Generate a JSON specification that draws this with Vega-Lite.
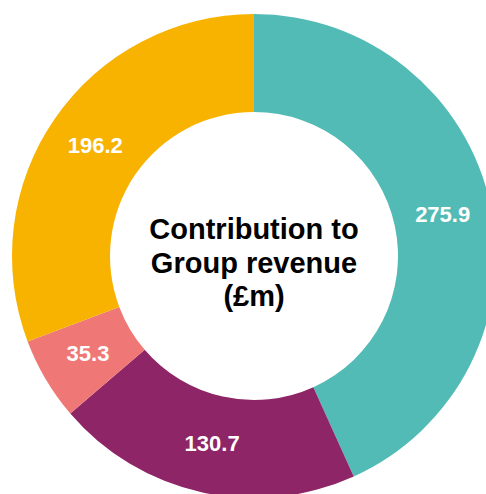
{
  "$schema": "https://vega.github.io/schema/vega-lite/v6.json",
  "usermeta": {"embedOptions": {"actions": false}},
  "width": 464,
  "height": 476,
  "autosize": "none",
  "padding": {"left": 22, "top": 18, "right": 0, "bottom": 0},
  "background": "white",
  "config": {"view": {"stroke": null}},
  "layer": [
    {
      "data": {"values": [
        {"segment": "Division A", "rank": 1, "value": 275.9},
        {"segment": "Division B", "rank": 2, "value": 130.7},
        {"segment": "Division C", "rank": 3, "value": 35.3},
        {"segment": "Division D", "rank": 4, "value": 196.2}
      ]},
      "layer": [
        {
          "mark": {"type": "arc", "outerRadius": 242, "innerRadius": 144},
          "encoding": {
            "theta": {"field": "value", "type": "quantitative", "stack": true},
            "order": {"field": "rank", "type": "quantitative"},
            "color": {
              "field": "segment", "type": "nominal", "legend": null,
              "scale": {
                "domain": ["Division A", "Division B", "Division C", "Division D"],
                "range": ["#53BBB6", "#8E2566", "#EF7775", "#F8B200"]
              }
            }
          }
        },
        {
          "mark": {"type": "text", "radius": 193, "fill": "white", "font": "Liberation Sans", "fontWeight": "bold", "fontSize": 22, "align": "center", "baseline": "middle"},
          "encoding": {
            "theta": {"field": "value", "type": "quantitative", "stack": true},
            "order": {"field": "rank", "type": "quantitative"},
            "detail": {"field": "segment", "type": "nominal"},
            "text": {"field": "value", "type": "quantitative", "format": ".1f"}
          }
        }
      ]
    },
    {
      "data": {"values": [{"title": "Contribution to\nGroup revenue\n(£m)"}]},
      "mark": {"type": "text", "lineBreak": "\n", "lineHeight": 33.5, "font": "Liberation Sans", "fontWeight": "bold", "fontSize": 29, "fill": "black", "align": "center", "baseline": "middle", "dy": -26},
      "encoding": {"text": {"field": "title", "type": "nominal"}}
    }
  ]
}
